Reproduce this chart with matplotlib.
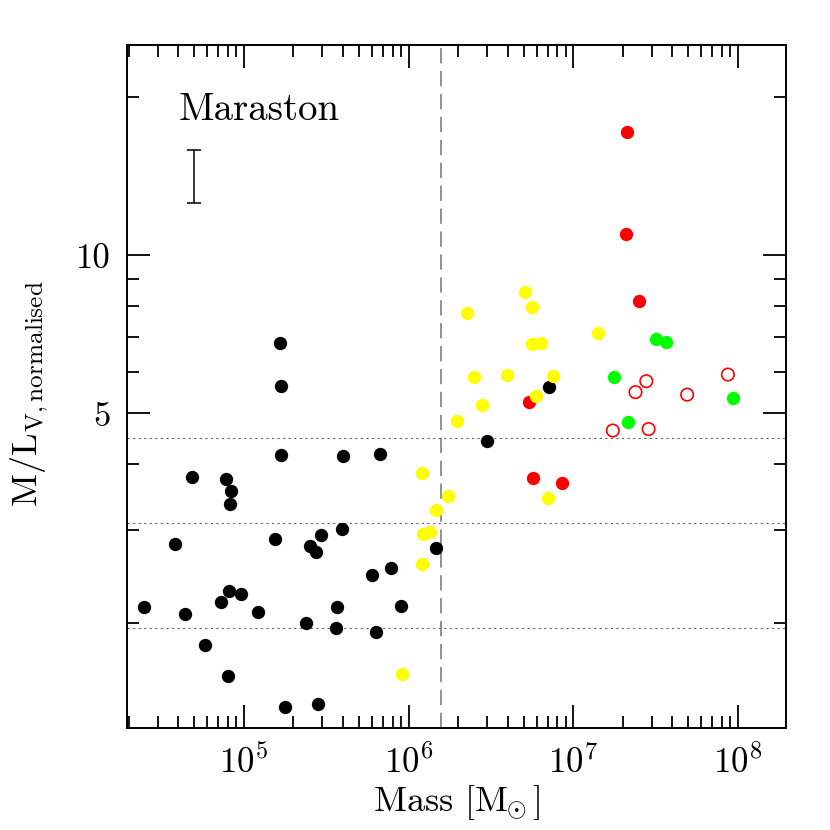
import numpy as np
import matplotlib
matplotlib.use("Agg")
import matplotlib.pyplot as plt
from matplotlib.ticker import FixedLocator, FuncFormatter, NullFormatter, LogLocator

plt.rcParams["font.family"] = ["cmr10", "DejaVu Serif"]
plt.rcParams["mathtext.fontset"] = "cm"
plt.rcParams["axes.formatter.use_mathtext"] = True

# black: clusters below the mass cut
black_mass = [1.66e5, 1.68e5, 1.69e5, 4.01e5, 6.75e5, 4.87e4, 7.74e4, 8.35e4, 8.24e4,
              3.82e4, 1.54e5, 2.53e5, 2.76e5, 2.94e5, 3.95e5, 1.47e6, 6.04e5, 7.81e5,
              2.46e4, 4.41e4, 7.29e4, 8.12e4, 9.64e4, 1.21e5, 2.37e5, 3.70e5, 3.62e5,
              6.30e5, 8.98e5, 5.78e4, 8.01e4, 1.78e5, 2.83e5, 2.99e6, 7.16e6]
black_ml = [6.81, 5.64, 4.17, 4.15, 4.18, 3.79, 3.75, 3.56, 3.37,
            2.82, 2.89, 2.80, 2.72, 2.93, 3.01, 2.77, 2.46, 2.54,
            2.14, 2.08, 2.19, 2.30, 2.27, 2.10, 2.00, 2.14, 1.95,
            1.92, 2.15, 1.81, 1.58, 1.38, 1.40, 4.43, 5.62]

yellow_mass = [5.12e6, 5.60e6, 2.26e6, 1.41e7, 5.65e6, 6.35e6, 2.50e6, 3.98e6, 7.51e6,
               5.95e6, 2.80e6, 1.98e6, 1.21e6, 1.73e6, 1.46e6, 1.23e6, 1.35e6, 1.20e6,
               7.03e6, 9.08e5]
yellow_ml = [8.50, 7.98, 7.78, 7.11, 6.77, 6.82, 5.87, 5.91, 5.88,
             5.39, 5.19, 4.83, 3.86, 3.49, 3.27, 2.95, 2.97, 2.59,
             3.46, 1.60]

red_mass = [2.13e7, 2.10e7, 2.52e7, 5.42e6, 5.74e6, 8.59e6]
red_ml = [17.19, 10.98, 8.18, 5.26, 3.77, 3.69]

green_mass = [3.17e7, 3.67e7, 1.77e7, 2.14e7, 9.29e7]
green_ml = [6.92, 6.84, 5.87, 4.81, 5.34]

open_mass = [1.74e7, 2.39e7, 2.78e7, 2.87e7, 4.92e7, 8.70e7]
open_ml = [4.64, 5.49, 5.76, 4.67, 5.43, 5.93]

hlines = [4.5, 3.1, 1.95]
mass_cut = 1.57e6
err_mass = 5.0e4
err_ml = 14.1
err_lo, err_hi = 1.55, 1.75

fig = plt.figure(figsize=(8.3, 8.3), dpi=100)
ax = fig.add_axes([0.153, 0.1225, 0.7935, 0.8233])
ax.set_xscale("log")
ax.set_yscale("log")
ax.set_xlim(10**4.29, 10**8.29)
ax.set_ylim(10**0.1, 10**1.4)

for h in hlines:
    ax.axhline(h, color="0.4", lw=0.8, ls=(0, (2, 3)), zorder=1)
ax.axvline(mass_cut, color="0.45", lw=1.1, ls=(0, (10, 5)), zorder=1)

s = 92
ax.scatter(black_mass, black_ml, s=s, c="black", linewidths=0, zorder=3)
ax.scatter(red_mass, red_ml, s=s, c="#ff0000", linewidths=0, zorder=3)
ax.scatter(yellow_mass, yellow_ml, s=s, c="#ffff00", linewidths=0, zorder=4)
ax.scatter(green_mass, green_ml, s=s, c="#00ff00", linewidths=0, zorder=4)
ax.scatter(open_mass, open_ml, s=80, facecolors="none", edgecolors="#ff0000",
           linewidths=1.2, zorder=4)

ax.errorbar([err_mass], [err_ml], yerr=[[err_lo], [err_hi]], fmt="none",
            ecolor="black", elinewidth=1.1, capsize=4.8, capthick=1.1)
ax.text(0.078, 0.89, "Maraston", transform=ax.transAxes, fontsize=28)

ax.yaxis.set_major_locator(FixedLocator([5, 10]))
ax.yaxis.set_minor_locator(FixedLocator([2, 3, 4, 6, 7, 8, 9, 20]))
ax.yaxis.set_major_formatter(FuncFormatter(lambda v, p: "%d" % v))
ax.yaxis.set_minor_formatter(NullFormatter())
ax.xaxis.set_major_locator(LogLocator(base=10, numticks=10))
ax.xaxis.set_minor_locator(LogLocator(base=10, subs=np.arange(2, 10), numticks=10))
ax.xaxis.set_minor_formatter(NullFormatter())

ax.tick_params(which="both", direction="in", top=True, right=True, width=1.3, color="black")
ax.tick_params(which="major", length=16.5, labelsize=25, pad=12)
ax.tick_params(which="minor", length=8.6)
for sp in ax.spines.values():
    sp.set_linewidth(1.4)

ax.set_xlabel(r"Mass $[\mathrm{M}_{\!\!\odot}]$", fontsize=26, labelpad=2)
ax.set_ylabel(r"$\mathrm{M/L_{V,normalised}}$", fontsize=26)
ax.yaxis.set_label_coords(-0.115, 0.49)

fig.savefig("out.png", dpi=100)
